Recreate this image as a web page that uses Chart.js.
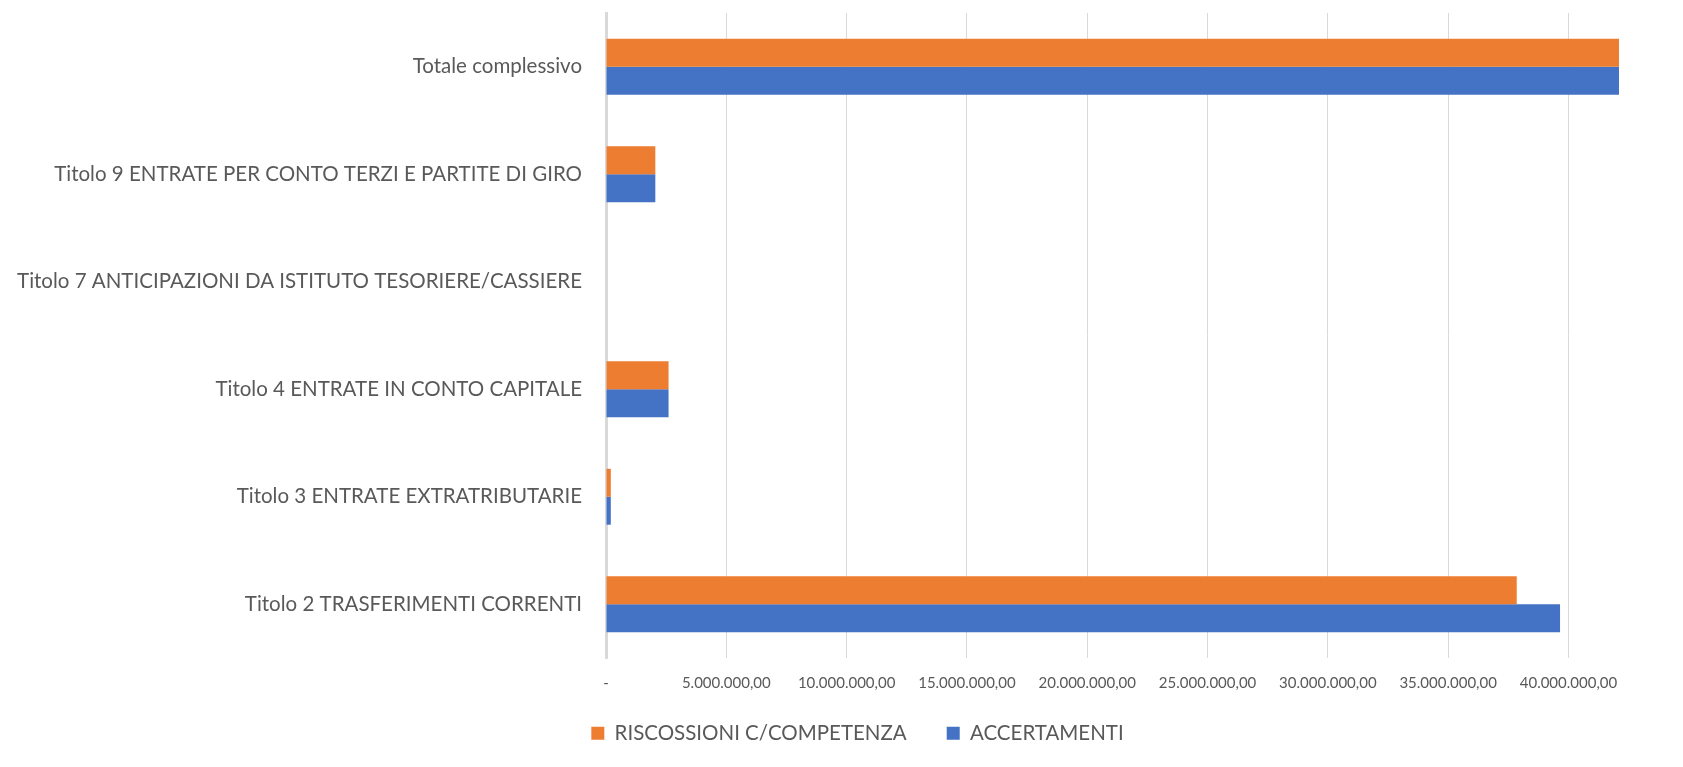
<!DOCTYPE html>
<html>
<head>
<meta charset="utf-8">
<script src="https://cdn.jsdelivr.net/npm/chart.js@4/dist/chart.umd.min.js"></script>
<style>
  html, body { margin: 0; padding: 0; background: #fff; }
  #wrap { width: 1683px; height: 767px; }
</style>
</head>
<body>
<div id="wrap"><canvas id="chart" width="1683" height="767"></canvas></div>
<script>
// data (euro)
const categories = [
    'Totale complessivo',
    'Titolo 9 ENTRATE PER CONTO TERZI E PARTITE DI GIRO',
    'Titolo 7 ANTICIPAZIONI DA ISTITUTO TESORIERE/CASSIERE',
    'Titolo 4 ENTRATE IN CONTO CAPITALE',
    'Titolo 3 ENTRATE EXTRATRIBUTARIE',
    'Titolo 2 TRASFERIMENTI CORRENTI'
];
const riscossioni = [42700000, 2050000, 0, 2600000, 200000, 37850000];
const accertamenti = [44500000, 2050000, 0, 2600000, 200000, 39650000];
const tickValues = [0, 5000000, 10000000, 15000000, 20000000, 25000000, 30000000, 35000000, 40000000];
const tickLabels = ['-', '5.000.000,00', '10.000.000,00', '15.000.000,00', '20.000.000,00',
                    '25.000.000,00', '30.000.000,00', '35.000.000,00', '40.000.000,00'];
const axisMax = 42100000;

const FONT = "Lato, 'Open Sans', sans-serif";

// legend: fixed height, and nudged to where the Excel one sits
const legendPlace = {
    id: 'legendPlace',
    beforeInit(chart) {
        const orig = chart.legend.fit;
        chart.legend.fit = function () {
            orig.call(this);
            this.height = 67;
        };
    },
    afterLayout(chart) {
        const lg = chart.legend;
        lg.left += 48;
        lg.right += 48;
        lg.top -= 17;
        lg.bottom -= 17;
    }
};

new Chart(document.getElementById('chart'), {
    type: 'bar',
    data: {
        labels: categories,
        datasets: [{
            label: 'RISCOSSIONI C/COMPETENZA',
            data: riscossioni,
            backgroundColor: '#ED7D31',
            categoryPercentage: 0.52,
            barPercentage: 1
        }, {
            label: 'ACCERTAMENTI',
            data: accertamenti,
            backgroundColor: '#4472C4',
            categoryPercentage: 0.52,
            barPercentage: 1
        }]
    },
    options: {
        indexAxis: 'y',
        responsive: false,
        animation: false,
        layout: { padding: { top: 13, right: 64, left: 0, bottom: 0 } },
        scales: {
            x: {
                min: 0,
                max: axisMax,
                afterBuildTicks: (s) => { s.ticks = tickValues.map(v => ({ value: v })); },
                afterFit: (s) => { s.height = 42; },
                grid: { color: '#d9d9d9', lineWidth: 1, drawTicks: false },
                border: { display: false },
                ticks: {
                    padding: 16,
                    color: '#595959',
                    font: { family: FONT, size: 15 },
                    maxRotation: 0,
                    autoSkip: false,
                    callback: (v) => tickLabels[tickValues.indexOf(v)]
                }
            },
            y: {
                afterFit: (s) => {
                    s.width = 606;
                    s.paddingTop = 0;
                    s.paddingBottom = 0;
                },
                grid: { display: false, drawTicks: false },
                border: { display: true, color: '#d9d9d9', width: 3 },
                ticks: {
                    padding: 24,
                    color: '#595959',
                    font: { family: FONT, size: 20.5 }
                }
            }
        },
        plugins: {
            legend: {
                position: 'bottom',
                labels: {
                    boxWidth: 13,
                    boxHeight: 13,
                    padding: 40,
                    color: '#595959',
                    font: { family: FONT, size: 20.5 }
                }
            },
            tooltip: { enabled: false }
        }
    },
    plugins: [legendPlace]
});
</script>
</body>
</html>
